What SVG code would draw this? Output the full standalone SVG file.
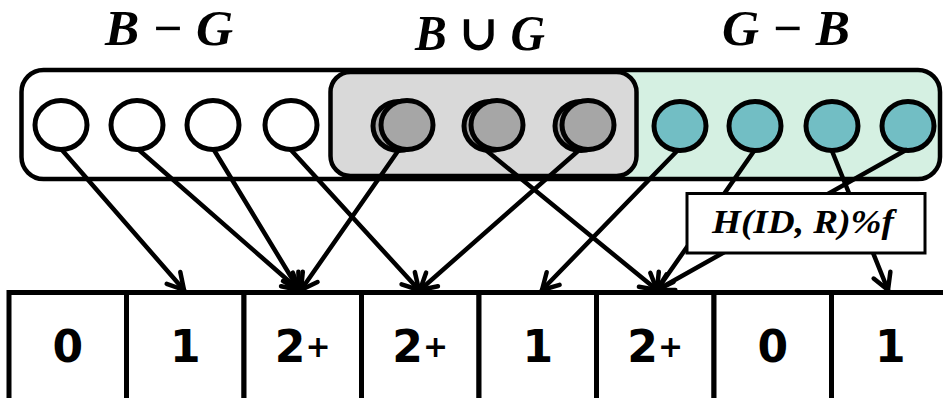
<svg xmlns="http://www.w3.org/2000/svg" width="943" height="398" viewBox="0 0 943 398">
  <style>
    .title { font-family: "Liberation Serif", "DejaVu Serif", serif; font-weight: bold; font-style: italic; font-size: 50px; fill: #000; }
    .frame { stroke: #000; stroke-width: 4.5; }
    .dot { stroke: #000; stroke-width: 5; }
    .white { fill: #fff; }
    .grey { fill: #a6a6a6; }
    .teal { fill: #72bec4; }
    .link { stroke: #000; stroke-width: 4.5; fill: none; stroke-linecap: round; marker-end: url(#arrow); }
    .cell { fill: #fff; stroke: #000; stroke-width: 5; }
    .num { font-family: "DejaVu Sans", "Liberation Sans", sans-serif; font-weight: bold; font-size: 44px; fill: #000; text-anchor: middle; }
    .plus { font-size: 30px; }
    .hash { font-family: "Liberation Serif", "DejaVu Serif", serif; font-weight: bold; font-style: italic; font-size: 33px; fill: #000; }
  </style>
  <defs>
    <linearGradient id="setFill" gradientUnits="userSpaceOnUse" x1="21" y1="0" x2="940" y2="0">
      <stop offset="0" stop-color="#ffffff"/>
      <stop offset="0.65" stop-color="#ffffff"/>
      <stop offset="0.65" stop-color="#d5f0e2"/>
      <stop offset="1" stop-color="#d5f0e2"/>
    </linearGradient>
    <marker id="arrow" markerUnits="userSpaceOnUse" viewBox="-20 -20 40 40" markerWidth="40" markerHeight="40" refX="0" refY="0" orient="auto" overflow="visible">
      <path d="M-16,-9 L0,0 L-16,9" fill="none" stroke="#000" stroke-width="4.5" stroke-linecap="round" stroke-linejoin="round"/>
    </marker>
  </defs>

  <!-- set labels -->
  <g id="label-b-minus-g"><text class="title" x="105" y="45" textLength="128" lengthAdjust="spacingAndGlyphs">B − G</text></g>
  <g id="label-b-union-g"><text class="title" x="415" y="50" textLength="130" lengthAdjust="spacingAndGlyphs">B ∪ G</text></g>
  <g id="label-g-minus-b"><text class="title" x="722" y="45" textLength="128" lengthAdjust="spacingAndGlyphs">G − B</text></g>

  <!-- set containers -->
  <g id="set-all"><rect class="frame" x="21.5" y="70" width="918.5" height="109" rx="22" fill="url(#setFill)"/></g>
  <g id="set-common"><rect class="frame" x="330.5" y="72" width="306" height="104" rx="20" fill="#d9d9d9"/></g>

  <!-- elements only in B -->
  <g id="b1"><ellipse class="dot white" cx="61" cy="125" rx="26" ry="24.5"/></g>
  <g id="b2"><ellipse class="dot white" cx="137" cy="125" rx="26" ry="24.5"/></g>
  <g id="b3"><ellipse class="dot white" cx="213" cy="125" rx="26" ry="24.5"/></g>
  <g id="b4"><ellipse class="dot white" cx="291" cy="125" rx="26" ry="24.5"/></g>

  <!-- shared elements (one in each set, drawn overlapping) -->
  <g id="c1"><ellipse class="dot grey" cx="399" cy="126" rx="26" ry="24.5"/><ellipse class="dot grey" cx="407" cy="125" rx="26" ry="24.5"/></g>
  <g id="c2"><ellipse class="dot grey" cx="490" cy="126" rx="26" ry="24.5"/><ellipse class="dot grey" cx="497" cy="125" rx="26" ry="24.5"/></g>
  <g id="c3"><ellipse class="dot grey" cx="581" cy="126" rx="26" ry="24.5"/><ellipse class="dot grey" cx="588" cy="125" rx="26" ry="24.5"/></g>

  <!-- elements only in G -->
  <g id="g1"><ellipse class="dot teal" cx="680" cy="126" rx="26" ry="24.5"/></g>
  <g id="g2"><ellipse class="dot teal" cx="755" cy="126" rx="26" ry="24.5"/></g>
  <g id="g3"><ellipse class="dot teal" cx="832" cy="126" rx="26" ry="24.5"/></g>
  <g id="g4"><ellipse class="dot teal" cx="908" cy="126" rx="26" ry="24.5"/></g>

  <!-- bucket array -->
  <g id="cell-0"><rect class="cell" x="9" y="292.5" width="117.5" height="120"/><text class="num" x="67.75" y="362">0</text></g>
  <g id="cell-1"><rect class="cell" x="126.5" y="292.5" width="117.5" height="120"/><text class="num" x="185.25" y="362">1</text></g>
  <g id="cell-2"><rect class="cell" x="244" y="292.5" width="117.5" height="120"/><text class="num" x="302.75" y="362">2<tspan class="plus" dy="-5">+</tspan></text></g>
  <g id="cell-3"><rect class="cell" x="361.5" y="292.5" width="117.5" height="120"/><text class="num" x="420.25" y="362">2<tspan class="plus" dy="-5">+</tspan></text></g>
  <g id="cell-4"><rect class="cell" x="479" y="292.5" width="117.5" height="120"/><text class="num" x="537.75" y="362">1</text></g>
  <g id="cell-5"><rect class="cell" x="596.5" y="292.5" width="117.5" height="120"/><text class="num" x="655.25" y="362">2<tspan class="plus" dy="-5">+</tspan></text></g>
  <g id="cell-6"><rect class="cell" x="714" y="292.5" width="117.5" height="120"/><text class="num" x="772.75" y="362">0</text></g>
  <g id="cell-7"><rect class="cell" x="831.5" y="292.5" width="117.5" height="120"/><text class="num" x="890.25" y="362">1</text></g>

  <!-- hashing links -->
  <g id="connectors">
    <line class="link" x1="62" y1="150" x2="184" y2="290"/>
    <line class="link" x1="139" y1="150" x2="299" y2="290"/>
    <line class="link" x1="214" y1="150" x2="299" y2="290"/>
    <line class="link" x1="291" y1="150" x2="419" y2="290"/>
    <line class="link" x1="398" y1="151" x2="301" y2="290"/>
    <line class="link" x1="487" y1="151" x2="657" y2="290"/>
    <line class="link" x1="578" y1="151" x2="420" y2="290"/>
    <line class="link" x1="677" y1="151" x2="542" y2="290"/>
    <line class="link" x1="754" y1="151" x2="657" y2="290"/>
    <line class="link" x1="832" y1="151" x2="888" y2="290"/>
    <line class="link" x1="906" y1="150" x2="657" y2="290"/>
  </g>

  <!-- hash function label -->
  <g id="hash-label">
    <rect x="687" y="193.5" width="238" height="59.5" fill="#fff" stroke="#000" stroke-width="3"/>
    <text class="hash" x="712" y="233" textLength="182" lengthAdjust="spacingAndGlyphs">H(ID, R)%f</text>
  </g>
</svg>
